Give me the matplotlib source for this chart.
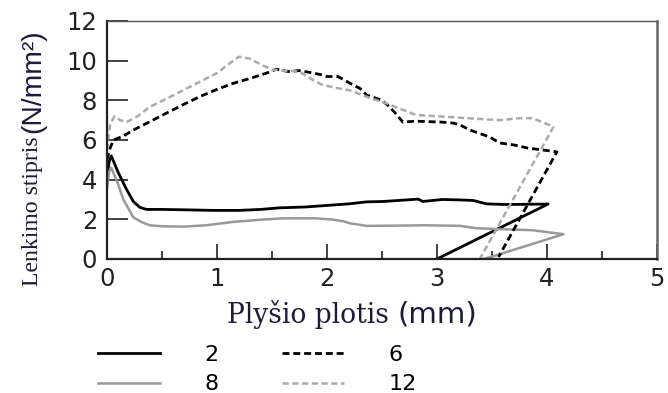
import matplotlib.pyplot as plt
from matplotlib.ticker import MultipleLocator

# crack width (mm) vs bending strength (N/mm2)
x_2 = [0, 0.02, 0.04, 0.1, 0.17, 0.24, 0.3, 0.36, 0.5, 0.7, 0.97, 1.2, 1.4, 1.57, 1.8, 2.0,
       2.2, 2.36, 2.51, 2.65, 2.83, 2.87, 3.05, 3.2, 3.33, 3.4, 3.45, 3.6, 3.69, 4.01, 3.0]
y_2 = [4.0, 4.9, 5.2, 4.4, 3.6, 2.9, 2.6, 2.5, 2.5, 2.48, 2.45, 2.45, 2.5, 2.58, 2.62, 2.7,
       2.78, 2.88, 2.9, 2.95, 3.02, 2.9, 3.0, 2.98, 2.95, 2.85, 2.78, 2.75, 2.75, 2.77, 0.0]

x_8 = [0, 0.02, 0.04, 0.1, 0.15, 0.24, 0.32, 0.39, 0.5, 0.69, 0.9, 1.15, 1.4, 1.6, 1.9, 2.06,
       2.15, 2.21, 2.36, 2.6, 2.9, 3.21, 3.36, 3.6, 3.87, 4.15, 3.5, 3.42]
y_8 = [3.5, 4.4, 4.6, 3.8, 3.0, 2.1, 1.85, 1.7, 1.65, 1.63, 1.7, 1.87, 1.98, 2.05, 2.05, 1.98,
       1.9, 1.8, 1.67, 1.68, 1.7, 1.67, 1.55, 1.5, 1.45, 1.25, 0.12, 0.0]

x_6 = [0, 0.03, 0.06, 0.15, 0.24, 0.4, 0.54, 0.7, 0.85, 1.0, 1.15, 1.3, 1.45, 1.54, 1.65, 1.75,
       1.85, 1.96, 2.0, 2.1, 2.21, 2.3, 2.36, 2.5, 2.57, 2.63, 2.69, 2.8, 3.05, 3.15, 3.21, 3.3,
       3.48, 3.57, 3.7, 3.82, 4.09, 3.56]
y_6 = [5.0, 5.6, 6.0, 6.2, 6.5, 6.95, 7.35, 7.8, 8.2, 8.55, 8.86, 9.1, 9.37, 9.57, 9.45, 9.5,
       9.4, 9.28, 9.2, 9.2, 8.86, 8.6, 8.27, 8.0, 7.67, 7.3, 6.9, 6.95, 6.9, 6.85, 6.76, 6.5,
       6.15, 5.85, 5.75, 5.6, 5.4, 0.1]

x_12 = [0, 0.03, 0.07, 0.12, 0.18, 0.28, 0.39, 0.55, 0.69, 0.85, 1.0, 1.1, 1.2, 1.3, 1.4, 1.5,
        1.6, 1.75, 1.85, 1.95, 2.06, 2.21, 2.4, 2.54, 2.7, 2.81, 3.0, 3.27, 3.57, 3.75, 3.87,
        4.06, 3.39]
y_12 = [5.5, 6.8, 7.2, 7.0, 6.9, 7.2, 7.67, 8.1, 8.5, 8.95, 9.37, 9.8, 10.2, 10.1, 9.8, 9.55,
        9.5, 9.45, 9.1, 8.8, 8.65, 8.5, 8.1, 7.85, 7.5, 7.26, 7.2, 7.1, 7.0, 7.1, 7.1,
        6.67, 0.0]

sans = ['DejaVu Sans']
lib_sans = ['Liberation Sans', 'DejaVu Sans']
plt.rcParams['font.family'] = sans
txt_col = '#1c1c3a'

fig = plt.figure(figsize=(6.68, 3.93), dpi=100)
ax = fig.add_axes([0.160, 0.341, 0.8235, 0.6056])

l2, = ax.plot(x_2, y_2, color='black', lw=2.0, label='2')
l8, = ax.plot(x_8, y_8, color='#999999', lw=1.8, label='8')
l6, = ax.plot(x_6, y_6, color='black', lw=2.0, ls=(0, (2.5, 1.4)), label='6')
l12, = ax.plot(x_12, y_12, color='#aaaaaa', lw=1.8, ls=(0, (2.5, 1.4)), label='12')

ax.set_xlim(0, 5)
ax.set_ylim(0, 12)
ax.xaxis.set_major_locator(MultipleLocator(1))
ax.xaxis.set_minor_locator(MultipleLocator(0.5))
ax.yaxis.set_major_locator(MultipleLocator(2))
ax.tick_params(axis='x', which='major', direction='in', length=11, width=1.3,
               color='#333333', labelsize=17.5, pad=6, labelcolor='#222222')
ax.tick_params(axis='x', which='minor', direction='in', length=6, width=1.3, color='#333333')
ax.tick_params(axis='y', which='major', direction='in', length=15, width=1.3,
               color='#333333', labelsize=17.5, pad=7, labelcolor='#222222')
for s in ['left', 'bottom']:
    ax.spines[s].set_linewidth(1.6)
    ax.spines[s].set_color('#222222')
ax.spines['top'].set_linewidth(1.0)
ax.spines['top'].set_color('#555555')
ax.spines['right'].set_linewidth(1.8)
ax.spines['right'].set_color('#666666')

fig.canvas.draw()
r = fig.canvas.get_renderer()


def fit_text(x, y, s, length, vertical=False, **kw):
    # make a text whose long side is `length` pixels
    t = fig.text(x, y, s, fontsize=10, rotation=90 if vertical else 0, **kw)
    bb = t.get_window_extent(r)
    cur = bb.height if vertical else bb.width
    t.set_fontsize(10 * length / cur)
    return t


# axis labels: serif words + sans unit, like the original
t1 = fit_text(33 / 668, 1 - 286 / 393, 'Lenkimo stipris', 150, vertical=True,
              family=['Liberation Serif'], ha='center', va='bottom', color=txt_col)
bb = t1.get_window_extent(r)
fit_text(33 / 668, (bb.y1 + 3) / fig.bbox.height, '(N/mm²)', 104, vertical=True,
         family=lib_sans, ha='center', va='bottom', color=txt_col)

t2 = fit_text(227 / 668, 1 - 323 / 393, 'Plyšio plotis', 162,
              family=['DejaVu Serif'], ha='left', va='baseline', color=txt_col)
fit_text(397 / 668, 1 - 323 / 393, '(mm)', 80,
         family=sans, ha='left', va='baseline', color=txt_col)

fig.legend(handles=[l2, l8, l6, l12], ncol=2, frameon=False, fontsize=16,
           loc='upper left', bbox_to_anchor=(98 / 668, 1 - 345 / 393),
           borderpad=0, borderaxespad=0, handlelength=2.8, handletextpad=2.0,
           columnspacing=2.85, labelspacing=0.42)

fig.savefig('out.png', dpi=100)
